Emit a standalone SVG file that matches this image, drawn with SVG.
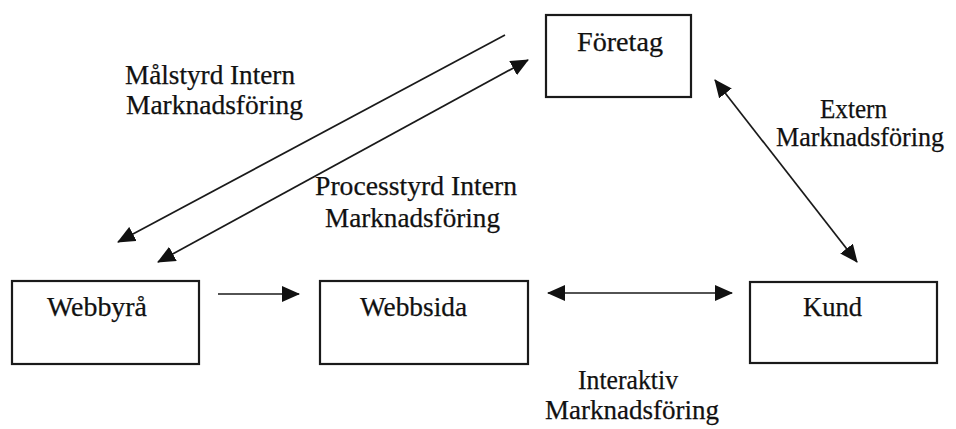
<svg xmlns="http://www.w3.org/2000/svg" width="956" height="429" viewBox="0 0 956 429">
  <defs>
    <style>
      .box { fill: #ffffff; stroke: #1a1a1a; stroke-width: 2.2; }
      .lbl { font-family: "Liberation Serif", "Times New Roman", serif; font-size: 28px; fill: #111111; stroke: #111111; stroke-width: 0.25; }
      .conn { stroke: #1a1a1a; stroke-width: 1.7; fill: none; }
    </style>
    <marker id="head" viewBox="0 0 18 16" refX="17" refY="8" markerWidth="18" markerHeight="16" markerUnits="userSpaceOnUse" orient="auto-start-reverse">
      <path d="M0,0 L18,8 L0,16 z" fill="#111111"/>
    </marker>
  </defs>
  <rect width="956" height="429" fill="#ffffff"/>

  <g id="node-foretag">
    <rect class="box" x="546" y="15" width="145" height="82"/>
    <text class="lbl" x="577" y="51" textLength="86" lengthAdjust="spacingAndGlyphs">Företag</text>
  </g>
  <g id="node-webbyra">
    <rect class="box" x="12" y="281" width="187" height="83"/>
    <text class="lbl" x="47" y="316" textLength="100" lengthAdjust="spacingAndGlyphs">Webbyrå</text>
  </g>
  <g id="node-webbsida">
    <rect class="box" x="320" y="281" width="208" height="83"/>
    <text class="lbl" x="360" y="316" textLength="107" lengthAdjust="spacingAndGlyphs">Webbsida</text>
  </g>
  <g id="node-kund">
    <rect class="box" x="750" y="282" width="187" height="81"/>
    <text class="lbl" x="803" y="316" textLength="59" lengthAdjust="spacingAndGlyphs">Kund</text>
  </g>

  <g id="connectors">
    <line class="conn" x1="505" y1="35" x2="118" y2="242" marker-end="url(#head)"/>
    <line class="conn" x1="158" y1="262" x2="528" y2="60" marker-start="url(#head)" marker-end="url(#head)"/>
    <line class="conn" x1="715" y1="80" x2="857" y2="262" marker-start="url(#head)" marker-end="url(#head)"/>
    <line class="conn" x1="218" y1="294" x2="299" y2="294" marker-end="url(#head)"/>
    <line class="conn" x1="548" y1="293" x2="732" y2="293" marker-start="url(#head)" marker-end="url(#head)"/>
  </g>

  <g id="connector-labels">
    <text class="lbl" x="125" y="84" textLength="170" lengthAdjust="spacingAndGlyphs">Målstyrd Intern</text>
    <text class="lbl" x="126" y="114" textLength="177" lengthAdjust="spacingAndGlyphs">Marknadsföring</text>
    <text class="lbl" x="315" y="195" textLength="202" lengthAdjust="spacingAndGlyphs">Processtyrd Intern</text>
    <text class="lbl" x="325" y="227" textLength="175" lengthAdjust="spacingAndGlyphs">Marknadsföring</text>
    <text class="lbl" x="820" y="118" textLength="67" lengthAdjust="spacingAndGlyphs">Extern</text>
    <text class="lbl" x="776" y="146" textLength="168" lengthAdjust="spacingAndGlyphs">Marknadsföring</text>
    <text class="lbl" x="578" y="389" textLength="100" lengthAdjust="spacingAndGlyphs">Interaktiv</text>
    <text class="lbl" x="545" y="419" textLength="174" lengthAdjust="spacingAndGlyphs">Marknadsföring</text>
  </g>
</svg>
